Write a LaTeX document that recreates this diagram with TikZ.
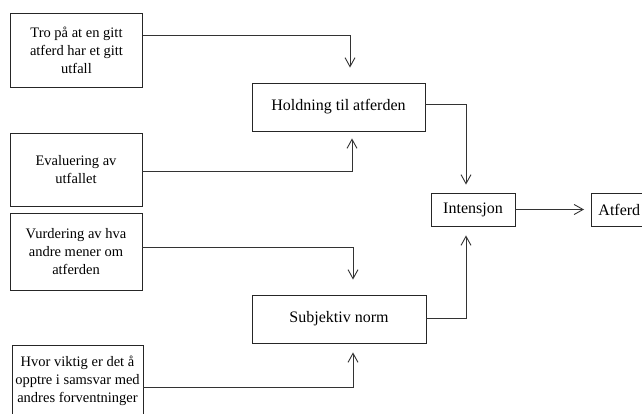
\documentclass[tikz,border=0pt]{standalone}
\usepackage{fontspec}
\setmainfont{Liberation Serif}
\usetikzlibrary{arrows.meta,calc}
\begin{document}
\begin{tikzpicture}[x=1pt,y=-1pt,
  box/.style={draw=black!85,line width=0.9pt,rectangle,inner sep=0pt,align=center},
  small/.style={box,font=\fontsize{14.5}{18}\selectfont,minimum width=132pt},
  big/.style={box,font=\fontsize{16}{19}\selectfont},
  conn/.style={draw=black!80,line width=0.9pt},
  arr/.style={conn,-{Straight Barb[length=9pt,width=10pt,line width=0.9pt]}}]
\useasboundingbox (0,0) rectangle (642,414);
\clip (0,0) rectangle (642,414);
% left boxes
\node[small,minimum height=74pt] (b1) at (76.5,50) {Tro på at en gitt\\atferd har et gitt\\utfall};
\node[small,minimum height=73pt] (b2) at (76,169.5) {Evaluering av\\utfallet};
\node[small,minimum height=77pt] (b3) at (76,251.5) {Vurdering av hva\\andre mener om\\atferden};
\node[small,minimum width=131pt,minimum height=72pt] (b4) at (77.5,381) {Hvor viktig er det å\\opptre i samsvar med\\andres forventninger};
% middle boxes
\node[big,minimum width=173pt,minimum height=48pt] (h) at (338.5,107) {Holdning til atferden};
\node[big,minimum width=174pt,minimum height=48pt] (s) at (339,319) {Subjektiv norm};
% right boxes
\node[big,minimum width=84pt,minimum height=33pt] (i) at (473,209.5) {Intensjon};
\node[big,minimum width=80pt,minimum height=33pt,anchor=west,text width=66pt,align=left] (a) at (591,209.5) {Atferd};
% connector bends
\coordinate (k1) at (350,35);
\coordinate (k2) at (352,171);
\coordinate (k3) at (353,247);
\coordinate (k4) at (353,387);
\coordinate (k5) at (466,104);
\coordinate (k6) at (466,318);
\draw[arr] (b1.east |- k1) -- (k1) -- ($(k1 |- h.north)+(0,-15)$);
\draw[arr] (b2.east |- k2) -- (k2) -- ($(k2 |- h.south)+(0,7)$);
\draw[arr] (b3.east |- k3) -- (k3) -- ($(k3 |- s.north)+(0,-15)$);
\draw[arr] (b4.east |- k4) -- (k4) -- ($(k4 |- s.south)+(0,9)$);
\draw[arr] (h.east |- k5) -- (k5) -- ($(k5 |- i.north)+(0,-8)$);
\draw[arr] (s.east |- k6) -- (k6) -- ($(k6 |- i.south)+(0,9)$);
\draw[arr] (i.east) -- ($(a.west)+(-7,0)$);
\end{tikzpicture}
\end{document}
